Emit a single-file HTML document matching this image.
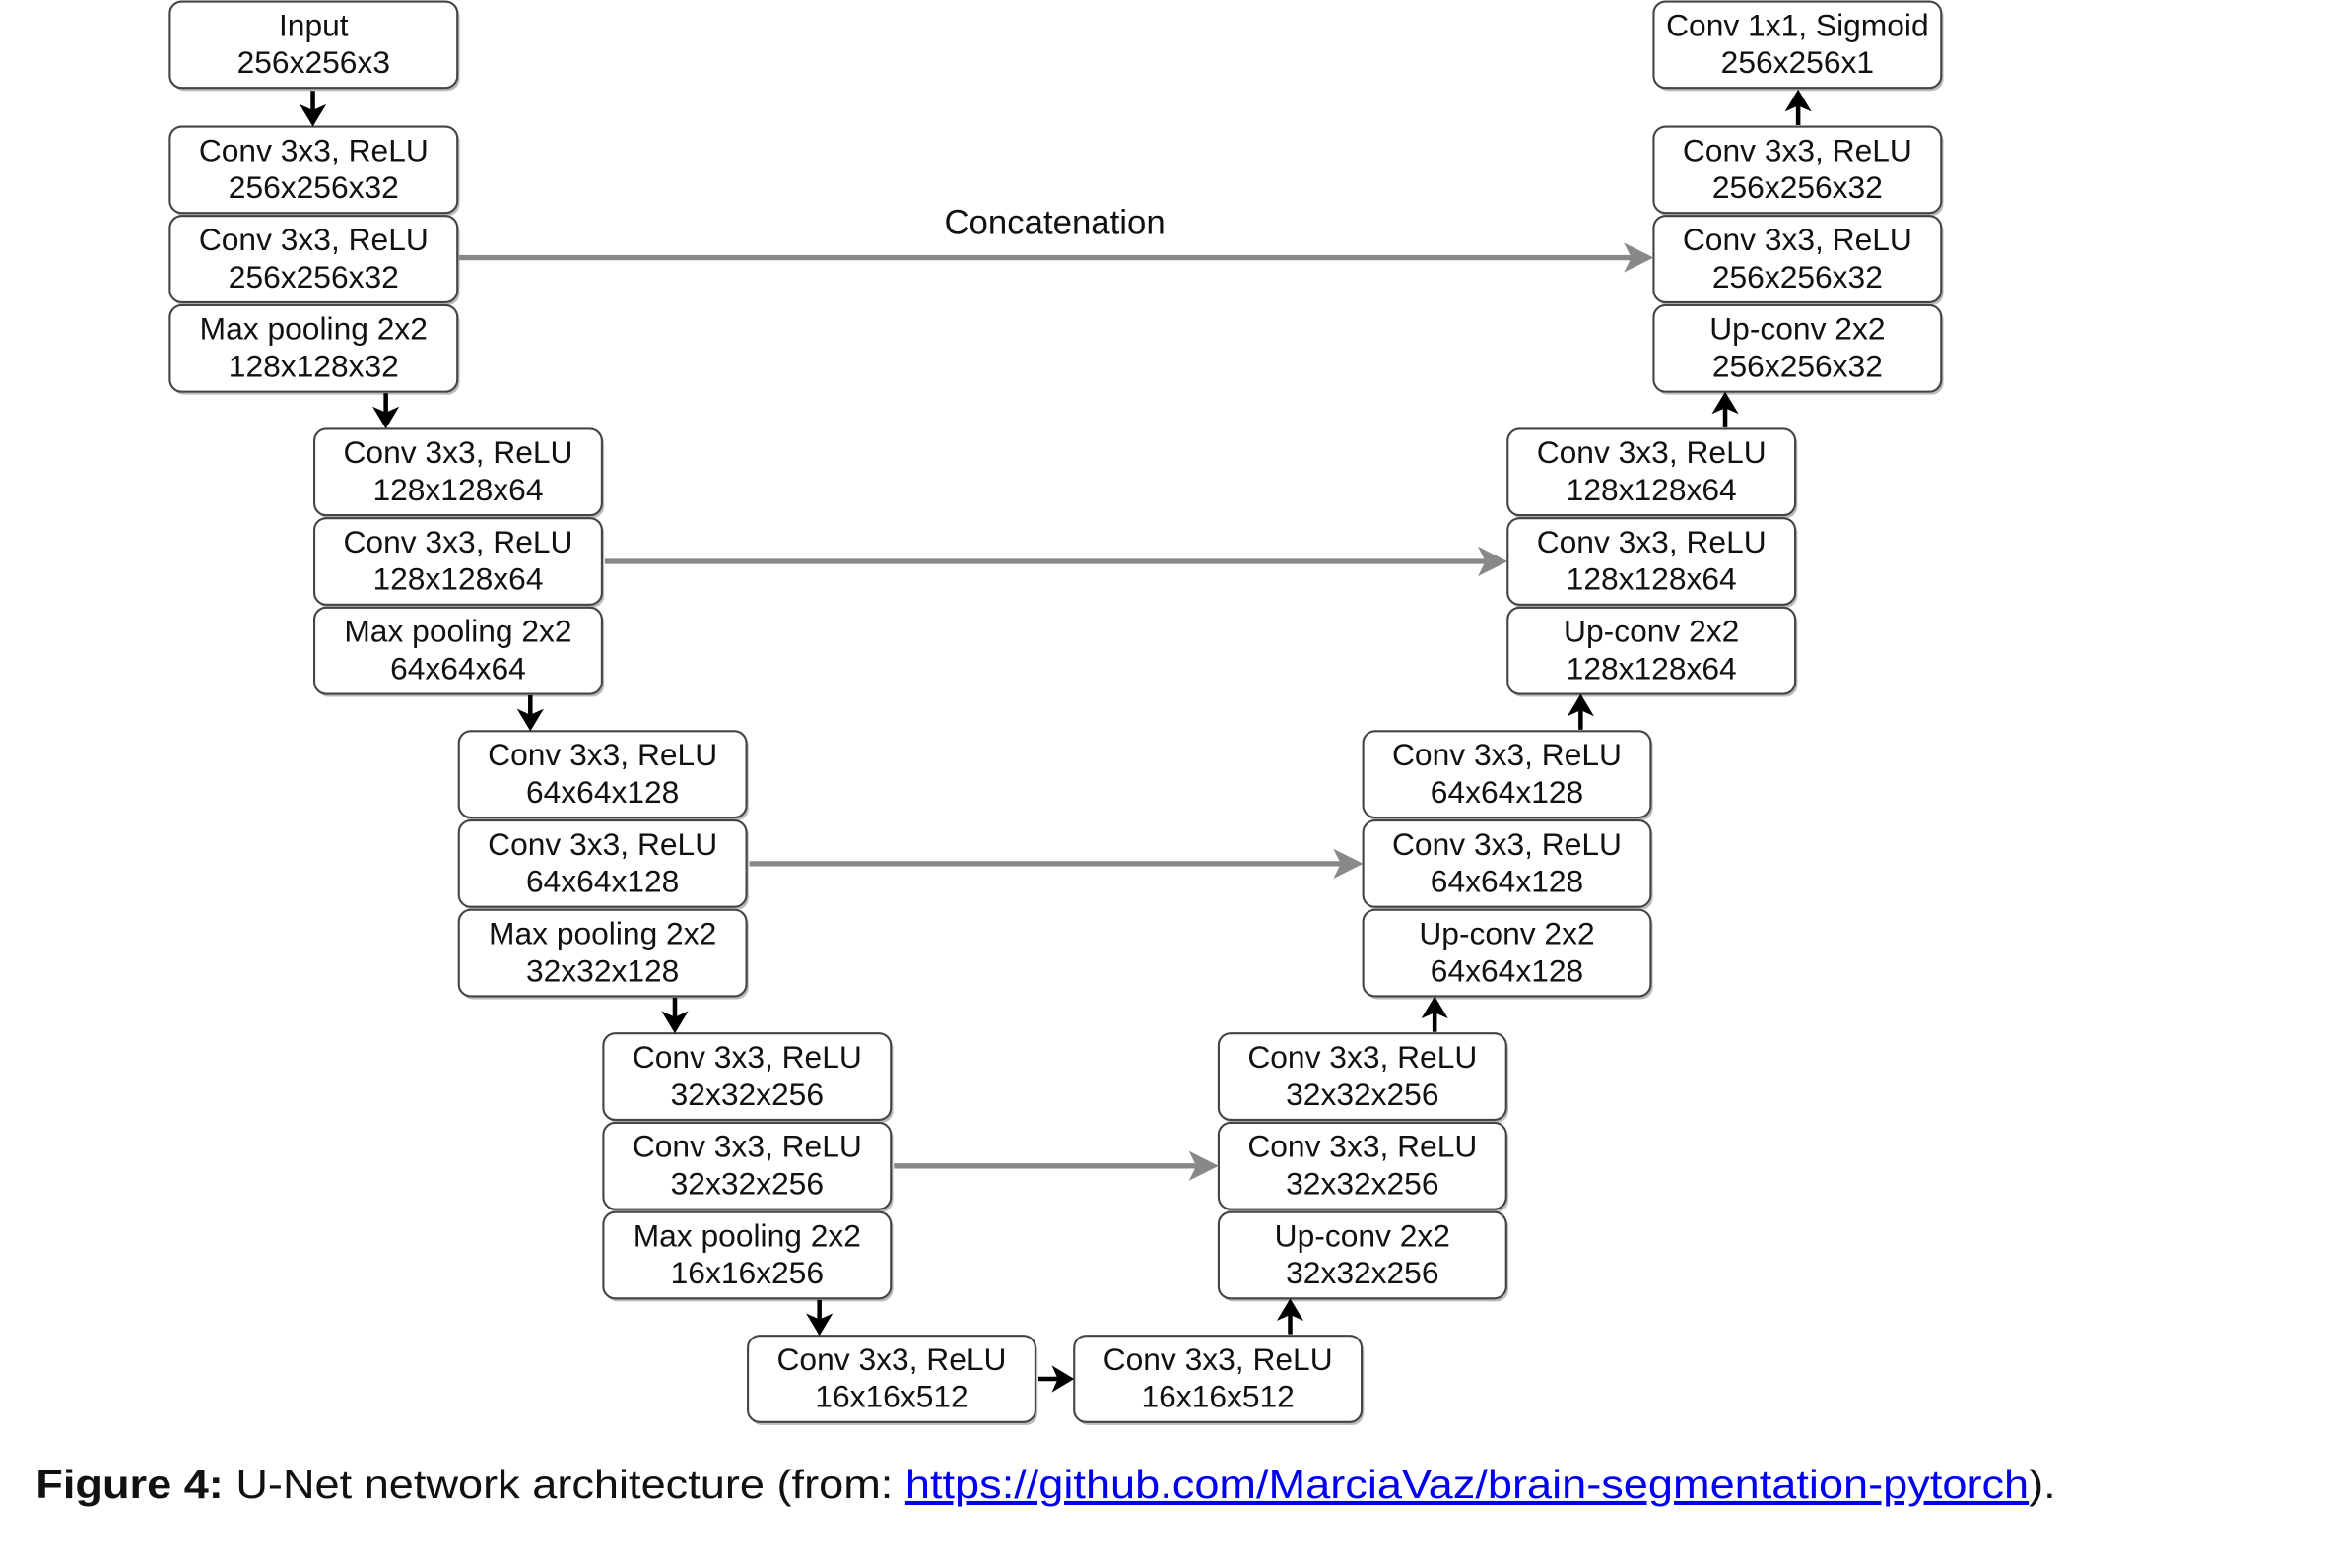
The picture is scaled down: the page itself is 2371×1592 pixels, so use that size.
<!DOCTYPE html>
<html><head><meta charset="utf-8"><style>
html,body{margin:0;padding:0;background:#fff;}
svg{display:block;}
text{font-family:"Liberation Sans",Arial,sans-serif;fill:#111;}
</style></head><body>
<svg width="2371" height="1592" viewBox="0 0 1568 1053" preserveAspectRatio="none" xmlns="http://www.w3.org/2000/svg">
<defs>
<g id="bx"><rect x="1.5" y="2" width="193" height="58" rx="8" fill="#bbb"/><rect x="0" y="0" width="193" height="58" rx="8" fill="#fff" stroke="#444" stroke-width="1.4"/></g>
</defs>
<g font-size="21" text-anchor="middle">
<use href="#bx" x="114" y="1"/><text x="210.5" y="24">Input</text><text x="210.5" y="49">256x256x3</text>
<use href="#bx" x="114" y="85"/><text x="210.5" y="108">Conv 3x3, ReLU</text><text x="210.5" y="133">256x256x32</text>
<use href="#bx" x="114" y="145"/><text x="210.5" y="168">Conv 3x3, ReLU</text><text x="210.5" y="193">256x256x32</text>
<use href="#bx" x="114" y="205"/><text x="210.5" y="228">Max pooling 2x2</text><text x="210.5" y="253">128x128x32</text>
<use href="#bx" x="211" y="288"/><text x="307.5" y="311">Conv 3x3, ReLU</text><text x="307.5" y="336">128x128x64</text>
<use href="#bx" x="211" y="348"/><text x="307.5" y="371">Conv 3x3, ReLU</text><text x="307.5" y="396">128x128x64</text>
<use href="#bx" x="211" y="408"/><text x="307.5" y="431">Max pooling 2x2</text><text x="307.5" y="456">64x64x64</text>
<use href="#bx" x="308" y="491"/><text x="404.5" y="514">Conv 3x3, ReLU</text><text x="404.5" y="539">64x64x128</text>
<use href="#bx" x="308" y="551"/><text x="404.5" y="574">Conv 3x3, ReLU</text><text x="404.5" y="599">64x64x128</text>
<use href="#bx" x="308" y="611"/><text x="404.5" y="634">Max pooling 2x2</text><text x="404.5" y="659">32x32x128</text>
<use href="#bx" x="405" y="694"/><text x="501.5" y="717">Conv 3x3, ReLU</text><text x="501.5" y="742">32x32x256</text>
<use href="#bx" x="405" y="754"/><text x="501.5" y="777">Conv 3x3, ReLU</text><text x="501.5" y="802">32x32x256</text>
<use href="#bx" x="405" y="814"/><text x="501.5" y="837">Max pooling 2x2</text><text x="501.5" y="862">16x16x256</text>
<use href="#bx" x="502" y="897"/><text x="598.5" y="920">Conv 3x3, ReLU</text><text x="598.5" y="945">16x16x512</text>
<use href="#bx" x="721" y="897"/><text x="817.5" y="920">Conv 3x3, ReLU</text><text x="817.5" y="945">16x16x512</text>
<use href="#bx" x="818" y="694"/><text x="914.5" y="717">Conv 3x3, ReLU</text><text x="914.5" y="742">32x32x256</text>
<use href="#bx" x="818" y="754"/><text x="914.5" y="777">Conv 3x3, ReLU</text><text x="914.5" y="802">32x32x256</text>
<use href="#bx" x="818" y="814"/><text x="914.5" y="837">Up-conv 2x2</text><text x="914.5" y="862">32x32x256</text>
<use href="#bx" x="915" y="491"/><text x="1011.5" y="514">Conv 3x3, ReLU</text><text x="1011.5" y="539">64x64x128</text>
<use href="#bx" x="915" y="551"/><text x="1011.5" y="574">Conv 3x3, ReLU</text><text x="1011.5" y="599">64x64x128</text>
<use href="#bx" x="915" y="611"/><text x="1011.5" y="634">Up-conv 2x2</text><text x="1011.5" y="659">64x64x128</text>
<use href="#bx" x="1012" y="288"/><text x="1108.5" y="311">Conv 3x3, ReLU</text><text x="1108.5" y="336">128x128x64</text>
<use href="#bx" x="1012" y="348"/><text x="1108.5" y="371">Conv 3x3, ReLU</text><text x="1108.5" y="396">128x128x64</text>
<use href="#bx" x="1012" y="408"/><text x="1108.5" y="431">Up-conv 2x2</text><text x="1108.5" y="456">128x128x64</text>
<use href="#bx" x="1110" y="1"/><text x="1206.5" y="24">Conv 1x1, Sigmoid</text><text x="1206.5" y="49">256x256x1</text>
<use href="#bx" x="1110" y="85"/><text x="1206.5" y="108">Conv 3x3, ReLU</text><text x="1206.5" y="133">256x256x32</text>
<use href="#bx" x="1110" y="145"/><text x="1206.5" y="168">Conv 3x3, ReLU</text><text x="1206.5" y="193">256x256x32</text>
<use href="#bx" x="1110" y="205"/><text x="1206.5" y="228">Up-conv 2x2</text><text x="1206.5" y="253">256x256x32</text>
<text x="708" y="157" font-size="23">Concatenation</text>
</g>
<g stroke="#888" stroke-width="3.5" fill="#888">
<line x1="308" y1="173" x2="1098" y2="173"/><polygon points="1110,173 1090,163 1095,173 1090,183" stroke="none"/>
<line x1="406" y1="377" x2="1000" y2="377"/><polygon points="1012,377 992,367 997,377 992,387" stroke="none"/>
<line x1="503" y1="580" x2="903" y2="580"/><polygon points="915,580 895,570 900,580 895,590" stroke="none"/>
<line x1="600" y1="783" x2="806" y2="783"/><polygon points="818,783 798,773 803,783 798,793" stroke="none"/>
</g>
<g stroke="#000" stroke-width="3" fill="#000">
<line x1="210" y1="61" x2="210" y2="75"/><polygon points="210,85 201,70 210,74 219,70" stroke="none"/>
<line x1="259" y1="264" x2="259" y2="278"/><polygon points="259,288 250,273 259,277 268,273" stroke="none"/>
<line x1="356" y1="467" x2="356" y2="481"/><polygon points="356,491 347,476 356,480 365,476" stroke="none"/>
<line x1="453" y1="670" x2="453" y2="684"/><polygon points="453,694 444,679 453,683 462,679" stroke="none"/>
<line x1="550" y1="873" x2="550" y2="887"/><polygon points="550,897 541,882 550,886 559,882" stroke="none"/>
<line x1="866" y1="896" x2="866" y2="882"/><polygon points="866,872 857,887 866,883 875,887" stroke="none"/>
<line x1="963" y1="693" x2="963" y2="679"/><polygon points="963,669 954,684 963,680 972,684" stroke="none"/>
<line x1="1061" y1="490" x2="1061" y2="476"/><polygon points="1061,466 1052,481 1061,477 1070,481" stroke="none"/>
<line x1="1158" y1="287" x2="1158" y2="273"/><polygon points="1158,263 1149,278 1158,274 1167,278" stroke="none"/>
<line x1="1207" y1="84" x2="1207" y2="70"/><polygon points="1207,60 1198,75 1207,71 1216,75" stroke="none"/>
<line x1="697" y1="926" x2="711" y2="926"/><polygon points="721,926 706,917 710,926 706,935" stroke="none"/>
</g>
<text x="24" y="1006" font-size="27" textLength="1356" lengthAdjust="spacingAndGlyphs"><tspan font-weight="bold">Figure 4:</tspan> U-Net network architecture (from: <tspan fill="#0000ee" text-decoration="underline">https://github.com/MarciaVaz/brain-segmentation-pytorch</tspan>).</text>
</svg>
</body></html>
